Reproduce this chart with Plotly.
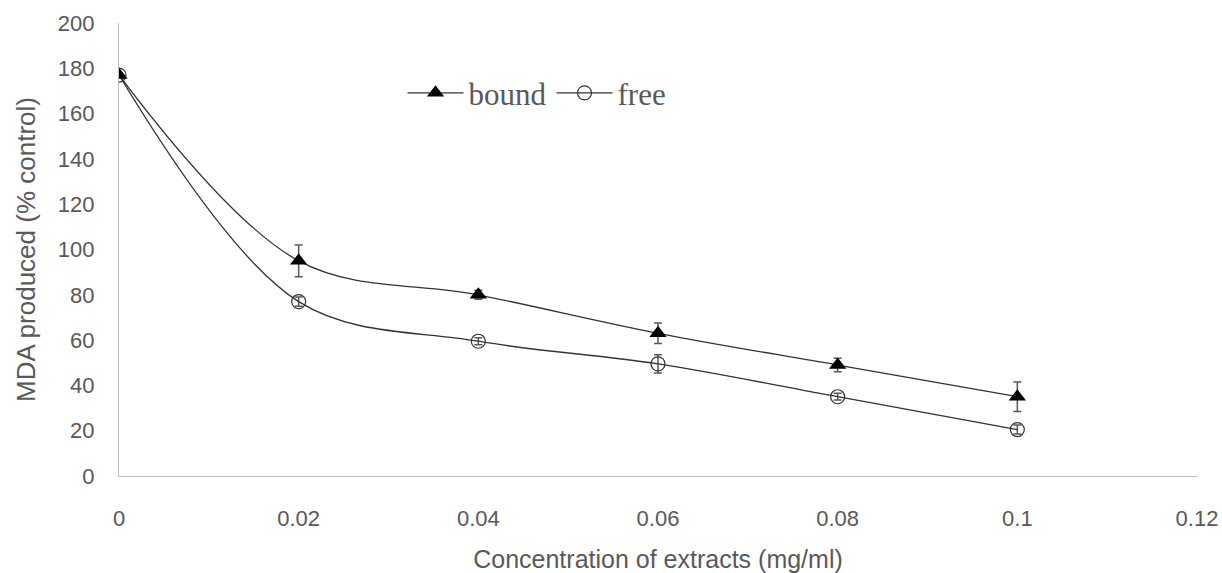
import plotly.graph_objects as go

conc = [0, 0.02, 0.04, 0.06, 0.08, 0.1]
bound = [177, 95, 80, 63, 49, 35]
bound_err = [1, 7, 2, 4.5, 3, 6.5]
free = [177, 77, 59.5, 49.5, 35, 20.5]
free_err = [1, 2, 1.5, 4, 1.5, 2]

x_ticks = [0, 0.02, 0.04, 0.06, 0.08, 0.1, 0.12]
x_tick_labels = ["0", "0.02", "0.04", "0.06", "0.08", "0.1", "0.12"]
y_ticks = [0, 20, 40, 60, 80, 100, 120, 140, 160, 180, 200]

fig = go.Figure()
fig.add_trace(go.Scatter(
    x=conc, y=free, name="free", mode="lines+markers",
    line=dict(color="#333333", width=1.3, shape="spline", smoothing=1),
    marker=dict(symbol="circle-open", size=14, color="#333333", line=dict(width=1.2)),
    error_y=dict(type="data", array=free_err, visible=True, color="#595959", thickness=1.5, width=4),
))
fig.add_trace(go.Scatter(
    x=conc, y=bound, name="bound", mode="lines+markers",
    line=dict(color="#333333", width=1.3, shape="spline", smoothing=1),
    marker=dict(symbol="triangle-up", size=15, color="black"),
    error_y=dict(type="data", array=bound_err, visible=True, color="#595959", thickness=1.5, width=4),
))

fig.update_layout(
    width=1222, height=573,
    margin=dict(l=119, r=25, t=23, b=97),
    plot_bgcolor="white", paper_bgcolor="white",
    showlegend=True,
    legend=dict(
        orientation="h", traceorder="reversed",
        x=0.263, y=0.845, xanchor="left", yanchor="middle",
        font=dict(family="Liberation Serif", size=31, color="#595959"),
        bgcolor="rgba(0,0,0,0)", itemwidth=56, tracegroupgap=0,
    ),
    xaxis=dict(
        range=[0, 0.12], tickvals=x_ticks, ticktext=x_tick_labels,
        showgrid=False, zeroline=False, showline=True, linecolor="#bfbfbf", linewidth=1.2,
        ticks="", ticklabelstandoff=22, automargin=False,
        tickfont=dict(family="Liberation Sans", size=22, color="#595959"),
        title=dict(text="Concentration of extracts (mg/ml)", standoff=28,
                   font=dict(family="Liberation Sans", size=25, color="#595959")),
    ),
    yaxis=dict(
        range=[0, 200], tickvals=y_ticks,
        showgrid=False, zeroline=False, showline=True, linecolor="#bfbfbf", linewidth=1.2,
        ticks="", ticklabelstandoff=19, automargin=False,
        tickfont=dict(family="Liberation Sans", size=22, color="#595959"),
        title=dict(text="MDA produced (% control)", standoff=14,
                   font=dict(family="Liberation Sans", size=26, color="#595959")),
    ),
)

fig.write_html("out.html", config={"displayModeBar": False},
               post_script="document.body.style.margin='0';document.body.style.overflow='hidden';")
